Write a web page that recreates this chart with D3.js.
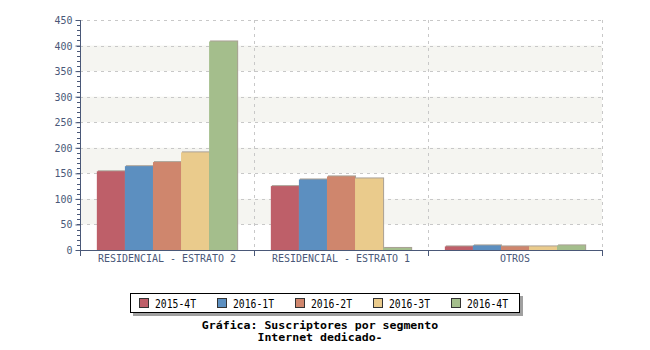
<!DOCTYPE html>
<html>
<head>
<meta charset="utf-8">
<script src="https://cdn.jsdelivr.net/npm/d3@7"></script>
<style>
  html, body { margin: 0; padding: 0; background: #fff; }
  svg { display: block; }
</style>
</head>
<body>
<svg id="chart" width="650" height="350"></svg>
<script>
// Suscriptores por segmento — Internet dedicado
const categories = ["RESIDENCIAL - ESTRATO 2", "RESIDENCIAL - ESTRATO 1", "OTROS"];
const seriesNames = ["2015-4T", "2016-1T", "2016-2T", "2016-3T", "2016-4T"];
const seriesColors = ["#be5f69", "#5c8fc0", "#cf866d", "#eacb8c", "#a4be8c"];
const v2015_4T = [154, 125, 7];
const v2016_1T = [164, 138, 9];
const v2016_2T = [172, 144, 7];
const v2016_3T = [191, 140, 7];
const v2016_4T = [408, 4, 9];
const yTicks = [0, 50, 100, 150, 200, 250, 300, 350, 400, 450];
const titleLines = ["Gráfica: Suscriptores por segmento", "Internet dedicado-"];

const seriesValues = [v2015_4T, v2016_1T, v2016_2T, v2016_3T, v2016_4T];

const svg = d3.select("#chart");
const plotL = 80, plotR = 602, plotT = 20, plotB = 250;
const axisColor = "#4a5878";
const mono = "'DejaVu Sans Mono', monospace";

const x0 = d3.scaleBand().domain(categories).range([plotL, plotR]).padding(0);
const x1 = d3.scaleBand().domain(seriesNames).range([0, x0.bandwidth()])
  .paddingInner(0).paddingOuter(0.6);
const y = d3.scaleLinear().domain([0, 450]).range([plotB, plotT]);

// alternating background bands
const bands = [[50, 100], [150, 200], [250, 300], [350, 400]];
svg.append("g").selectAll("rect").data(bands).join("rect")
  .attr("x", plotL).attr("width", plotR - plotL)
  .attr("y", d => y(d[1])).attr("height", d => y(d[0]) - y(d[1]))
  .attr("fill", "#f5f5f1");

// horizontal dashed grid
svg.append("g").selectAll("line").data(yTicks.filter(t => t > 0)).join("line")
  .attr("x1", plotL).attr("x2", plotR)
  .attr("y1", d => Math.round(y(d)) + 0.5).attr("y2", d => Math.round(y(d)) + 0.5)
  .attr("stroke", "#c8c8c8").attr("stroke-dasharray", "3,4");

// vertical dashed grid at category boundaries
const bounds = categories.map(c => x0(c) + x0.bandwidth()).map(Math.round);
svg.append("g").selectAll("line").data(bounds).join("line")
  .attr("x1", d => d + 0.5).attr("x2", d => d + 0.5)
  .attr("y1", plotT).attr("y2", plotB)
  .attr("stroke", "#c8c8c8").attr("stroke-dasharray", "3,4");

// bars with a soft shadow edge
const groups = svg.append("g").selectAll("g").data(seriesNames).join("g");
groups.each(function(name, si) {
  const g = d3.select(this);
  const data = categories.map((c, ci) => ({ c, v: seriesValues[si][ci] }));
  g.selectAll("rect.sh").data(data).join("rect").attr("class", "sh")
    .attr("x", d => x0(d.c) + x1(name) + 1)
    .attr("y", d => y(d.v) - 1)
    .attr("width", x1.bandwidth())
    .attr("height", d => plotB - y(d.v) + 1)
    .attr("fill", "#aaa196");
  g.selectAll("rect.bar").data(data).join("rect").attr("class", "bar")
    .attr("x", d => x0(d.c) + x1(name))
    .attr("y", d => y(d.v))
    .attr("width", x1.bandwidth())
    .attr("height", d => plotB - y(d.v))
    .attr("fill", seriesColors[si]);
});

// y axis with minor ticks
const yMinor = d3.range(0, 451, 10);
svg.append("g").selectAll("line").data(yMinor).join("line")
  .attr("x1", plotL - 3).attr("x2", plotL)
  .attr("y1", d => Math.round(y(d)) + 0.5).attr("y2", d => Math.round(y(d)) + 0.5)
  .attr("stroke", axisColor);
const yAxis = svg.append("g").attr("transform", `translate(${plotL + 0.5},0)`)
  .call(d3.axisLeft(y).tickValues(yTicks).tickSize(5).tickPadding(3).tickSizeOuter(0));
yAxis.select(".domain").attr("stroke", axisColor).attr("d", `M0,${plotT}V${plotB + 6}`);
yAxis.selectAll(".tick line").attr("stroke", axisColor);
yAxis.selectAll(".tick text").attr("fill", axisColor)
  .style("font-family", mono).style("font-size", "11px")
  .attr("textLength", d => String(d).length * 6).attr("lengthAdjust", "spacingAndGlyphs");

// x axis
const xAxis = svg.append("g").attr("transform", `translate(0,${plotB + 0.5})`)
  .call(d3.axisBottom(x0).tickSize(0).tickPadding(4).tickSizeOuter(0));
xAxis.select(".domain").attr("stroke", axisColor).attr("d", `M${plotL},0H${plotR}`);
xAxis.selectAll(".tick text").attr("fill", axisColor)
  .style("font-family", mono).style("font-size", "11px")
  .attr("textLength", d => d.length * 6).attr("lengthAdjust", "spacingAndGlyphs");
svg.append("g").selectAll("line").data(bounds).join("line")
  .attr("x1", d => d + 0.5).attr("x2", d => d + 0.5)
  .attr("y1", plotB).attr("y2", plotB + 6)
  .attr("stroke", axisColor);

// legend box with drop shadow
const lg = svg.append("g");
lg.append("rect").attr("x", 133).attr("y", 296).attr("width", 390).attr("height", 20).attr("fill", "#a0a0a0");
lg.append("rect").attr("x", 130.5).attr("y", 293.5).attr("width", 389).attr("height", 19)
  .attr("fill", "#fff").attr("stroke", "#000");
const items = lg.selectAll("g.item").data(seriesNames).join("g").attr("class", "item")
  .attr("transform", (d, i) => `translate(${139 + i * 78},0)`);
items.append("rect").attr("x", 0.5).attr("y", 298.5).attr("width", 9).attr("height", 9)
  .attr("fill", (d, i) => seriesColors[i]).attr("stroke", "#333");
items.append("text").attr("x", 16).attr("y", 307.5).text(d => d)
  .style("font-family", mono).style("font-size", "12px").attr("fill", "#000")
  .attr("textLength", 41).attr("lengthAdjust", "spacingAndGlyphs");

// title
svg.append("g").selectAll("text").data(titleLines).join("text")
  .attr("x", 320).attr("y", (d, i) => 329 + i * 12)
  .attr("text-anchor", "middle")
  .style("font-family", mono).style("font-size", "10.5px").style("font-weight", "bold")
  .attr("textLength", d => d.length * 6.95).attr("lengthAdjust", "spacingAndGlyphs")
  .attr("fill", "#000").text(d => d);
</script>
</body>
</html>
